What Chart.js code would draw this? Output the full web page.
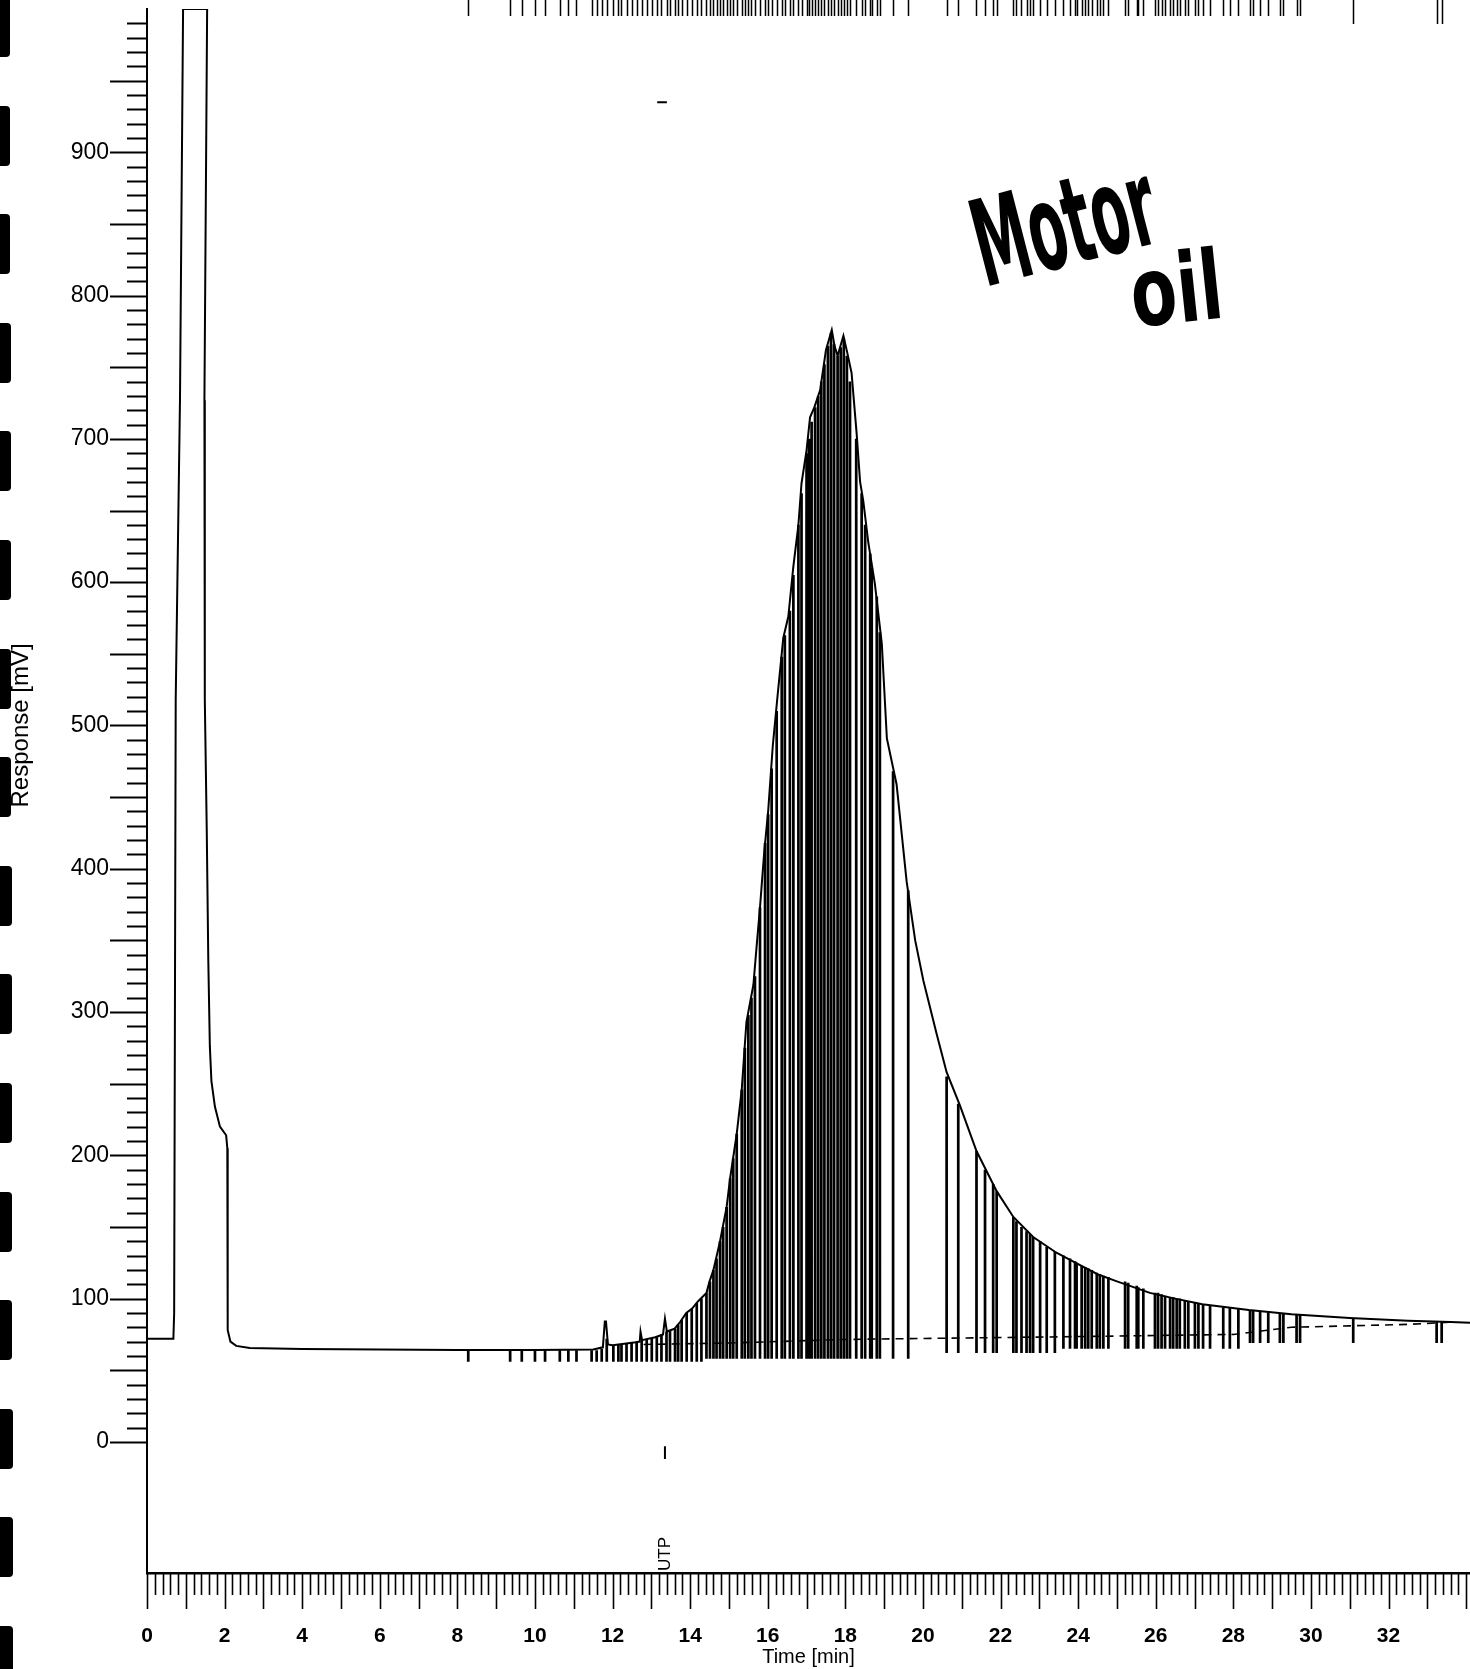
<!DOCTYPE html>
<html>
<head>
<meta charset="utf-8">
<title>Motor oil</title>
<script src="https://cdn.jsdelivr.net/npm/chart.js@4.4.1/dist/chart.umd.min.js"></script>
<style>
  html, body { margin: 0; padding: 0; background: #fff; }
  #wrap { position: relative; width: 1470px; height: 1669px; overflow: hidden; background: #fff; }
  #graph { position: absolute; left: 0; top: 0; }
  .hole { position: absolute; left: 0; background: #000; border-radius: 0 4px 4px 0; }
</style>
</head>
<body>
<div id="wrap">
  <canvas id="graph" width="1470" height="1669"></canvas>
</div>
<script>
// detector trace, time [min] / response [mV]
const signalTime = [0, 0.68, 0.70, 0.74, 0.85, 0.93, 1.55, 1.48, 1.49, 1.54, 1.58, 1.62, 1.66, 1.75, 1.88, 2.04, 2.07, 2.08, 2.15, 2.3, 2.65,
    4.0, 6.0, 8.0, 10.0, 11.5, 11.75, 11.8, 11.83, 11.88, 12.0, 12.3, 12.6, 12.7, 12.72, 12.76, 13.1, 13.3, 13.35, 13.4, 13.6,
    13.75, 13.9, 14.05, 14.2, 14.42, 14.5, 14.6, 14.77, 14.94, 15.03, 15.2, 15.33, 15.45, 15.63, 15.71, 15.8, 15.91, 16.01,
    16.13, 16.25, 16.4, 16.53, 16.66, 16.79, 16.87, 17.0, 17.09, 17.2, 17.35, 17.5, 17.65, 17.72, 17.8, 17.95, 18.05, 18.16,
    18.29, 18.38, 18.46, 18.59, 18.76, 18.94, 19.07, 19.32, 19.58, 19.8, 20.01, 20.35, 20.61, 20.95, 21.38, 21.9, 22.33,
    22.84, 23.44, 24.0, 24.5, 25.0, 25.85, 26.5, 27.2, 28.4, 29.5, 31.0, 32.5, 33.6, 34.2];
const signalValue = [72, 72, 90, 518, 727, 1000, 1000, 727, 518, 427, 336, 276, 252, 234, 220, 214, 205, 78, 70, 67, 65.6,
    64.8, 64.4, 64.2, 64.2, 64.5, 66, 84, 84, 68, 67.5, 68.5, 69.5, 70, 77, 71, 73, 75, 86, 77, 79,
    84, 90, 93, 98, 104, 112, 120, 140, 164, 184, 215, 246, 293, 319, 345, 373, 412, 440,
    486, 520, 561, 576, 611, 640, 669, 692, 715, 722, 734, 762, 776, 765, 758, 772, 760, 746,
    704, 670, 657, 628, 599, 557, 491, 459, 391, 350, 322, 285, 258, 235, 203, 175, 157,
    143, 132, 124, 117, 112, 104, 100, 96, 92, 89, 86.5, 84.5, 83.6, 83];

// dashed integration baseline
const baseTime = [12.8, 15.0, 18.0, 21.0, 24.0, 28.0, 29.5, 31.0, 32.5, 33.6];
const baseValue = [68, 69, 71.5, 72.5, 73.5, 75, 80, 81, 82, 83.5];

// peak drop lines (time, top, bottom)
const dropTimes = [8.28, 9.36, 9.66, 10.0, 10.26, 10.64, 10.86, 11.07, 11.46, 11.59,
    11.72, 11.85, 12.02, 12.15, 12.23, 12.36, 12.49, 12.62, 12.75, 12.88, 13.01, 13.14, 13.26, 13.39, 13.48, 13.61,
    13.69, 13.78, 13.91, 14.04, 14.17, 14.29,
    14.42, 14.51, 14.6, 14.68, 14.77, 14.85, 14.94, 15.03, 15.11, 15.2, 15.33, 15.41, 15.5, 15.58, 15.67, 15.8, 15.93,
    16.01, 16.1, 16.23, 16.36, 16.44, 16.57, 16.66, 16.79, 16.87, 17.0, 17.06, 17.13, 17.22, 17.3, 17.38, 17.46, 17.55,
    17.63, 17.71, 17.8, 17.88, 17.96, 18.04, 18.12, 18.28, 18.42, 18.51, 18.64, 18.68, 18.81, 18.89, 19.23, 19.62,
    20.61, 20.91, 21.38, 21.6, 21.81, 21.9, 22.33, 22.41, 22.54, 22.67, 22.76, 22.84, 23.02, 23.19, 23.4, 23.62, 23.79,
    23.92, 23.96, 24.09, 24.18, 24.26, 24.35, 24.48, 24.56, 24.65, 24.78, 25.21, 25.29, 25.51, 25.55, 25.68, 25.98,
    26.06, 26.15, 26.24, 26.37, 26.45, 26.54, 26.62, 26.75, 26.84, 27.01, 27.1, 27.22, 27.4, 27.74, 27.91, 28.13,
    28.43, 28.51, 28.69, 28.9, 29.2, 29.29, 29.63, 29.72, 31.09, 33.24, 33.37];
const dropTops = [64, 64, 64, 64, 64, 64, 64, 64, 64, 64,
    65, 72, 67.5, 68, 68, 68.5, 69, 70, 71, 72, 72.5, 73.5, 75, 77, 78, 79, 82, 85, 90, 93, 97, 100,
    104, 112, 120, 128, 140, 150, 164, 184, 198, 215, 246, 275, 298, 310, 325, 373, 418, 438, 470, 510,
    548, 563, 580, 605, 640, 662, 690, 700, 712, 722, 730, 740, 752, 765, 774, 766, 758, 764, 770, 758,
    740, 700, 662, 640, 620, 610, 590, 565, 468, 385,
    255, 236, 203, 190, 180, 175, 157, 154, 150, 147, 145, 143, 140, 136, 133, 130, 128, 126, 125, 123,
    122, 121, 120, 118, 117, 116, 115, 112, 111, 109, 108, 107, 104, 104, 103, 102, 101, 101, 100, 100,
    99, 98, 97, 97, 96, 95.5, 94, 93.5, 93, 92, 91.5, 91, 90.5, 90, 89.5, 89, 88.5, 86, 84, 84];
const dropBottoms = [56, 56, 56, 56, 56, 56, 56, 56, 56, 56,
    56, 56, 56, 56, 56, 56, 56, 56, 56, 56, 56, 56, 56, 56, 56, 56, 56, 56, 56, 56, 56, 56,
    58, 58, 58, 58, 58, 58, 58, 58, 58, 58, 58, 58, 58, 58, 58, 58, 58, 58, 58, 58,
    58, 58, 58, 58, 58, 58, 58, 58, 58, 58, 58, 58, 58, 58, 58, 58, 58, 58, 58, 58,
    58, 58, 58, 58, 58, 58, 58, 58, 58, 58,
    62, 62, 62, 62, 62, 62, 62, 62, 62, 62, 62, 62, 62, 62, 62, 65, 65, 65, 65, 65,
    65, 65, 65, 65, 65, 65, 65, 65, 65, 65, 65, 65, 65, 65, 65, 65, 65, 65, 65, 65,
    65, 65, 65, 65, 65, 65, 65, 65, 65, 69, 69, 69, 69, 69, 69, 69, 69, 69, 69, 69];

const xTickLabels = [0, 2, 4, 6, 8, 10, 12, 14, 16, 18, 20, 22, 24, 26, 28, 30, 32];
const yTickLabels = [0, 100, 200, 300, 400, 500, 600, 700, 800, 900];

const injectTime = 13.35; // UTP event

Chart.defaults.font.family = "'Liberation Sans', Arial, sans-serif";
Chart.defaults.color = '#000';

// punch holes down the left edge of the scan
const wrap = document.getElementById('wrap');
for (let n = 0; n < 16; n++) {
    let hole = document.createElement('div');
    hole.setAttribute('class', 'hole');
    hole.style.top = (-3 + n * 108.6) + 'px';
    hole.style.height = '60px';
    hole.style.width = (10 + n * 0.2) + 'px';
    wrap.appendChild(hole);
}

let signalPoints = signalTime.map((t, i) => ({ x: t, y: signalValue[i] }));
let basePoints = baseTime.map((t, i) => ({ x: t, y: baseValue[i] }));
let dropPoints = [];
dropTimes.forEach((t, i) => {
    dropPoints.push({ x: t, y: dropBottoms[i] }, { x: t, y: dropTops[i] }, { x: t, y: null });
});

const decor = {
    id: 'decor',
    afterDraw(chart) {
        const { ctx, chartArea, scales: { x, y } } = chart;
        ctx.save();
        ctx.strokeStyle = '#000';
        ctx.fillStyle = '#000';
        // y ticks every 10 mV
        ctx.lineWidth = 2;
        ctx.beginPath();
        for (let i = 0; i <= 99; i++) {
            let py = Math.round(y.getPixelForValue(i * 10)) + 0.5;
            let len = i % 5 === 0 ? 37 : 20;
            ctx.moveTo(chartArea.left - len, py);
            ctx.lineTo(chartArea.left, py);
        }
        ctx.stroke();
        // x ticks every 0.2 min
        ctx.lineWidth = 1.6;
        ctx.beginPath();
        for (let i = 0; i <= 170; i++) {
            let px = Math.round(x.getPixelForValue(i / 5)) + 0.5;
            let len = i % 5 === 0 ? 36 : 22;
            ctx.moveTo(px, chartArea.bottom);
            ctx.lineTo(px, chartArea.bottom + len);
        }
        ctx.stroke();
        // peak label marks along the top
        ctx.lineWidth = 1.5;
        ctx.beginPath();
        dropTimes.forEach(t => {
            let px = Math.round(x.getPixelForValue(t)) + 0.5;
            ctx.moveTo(px, 0);
            ctx.lineTo(px, t > 31 ? 24 : 16);
        });
        ctx.stroke();
        // UTP event marks
        let ux = x.getPixelForValue(injectTime);
        ctx.lineWidth = 2;
        ctx.beginPath();
        ctx.moveTo(ux, y.getPixelForValue(-3));
        ctx.lineTo(ux, y.getPixelForValue(-12));
        ctx.moveTo(x.getPixelForValue(injectTime - 0.2), y.getPixelForValue(935));
        ctx.lineTo(x.getPixelForValue(injectTime + 0.05), y.getPixelForValue(935));
        ctx.stroke();
        ctx.save();
        ctx.translate(ux, chartArea.bottom - 2);
        ctx.rotate(-Math.PI / 2);
        ctx.font = "17px 'Liberation Sans', Arial, sans-serif";
        ctx.textBaseline = 'middle';
        ctx.fillText('UTP', 0, 0);
        ctx.restore();
        // y axis title, centred on 500 mV as in the print-out
        ctx.save();
        ctx.translate(21, y.getPixelForValue(500));
        ctx.rotate(-Math.PI / 2);
        ctx.font = "24px 'Liberation Sans', Arial, sans-serif";
        ctx.textAlign = 'center';
        ctx.textBaseline = 'middle';
        ctx.fillText('Response [mV]', 0, 0);
        ctx.restore();
        // handwritten note
        ctx.font = "bold 120px 'DejaVu Sans', sans-serif";
        ctx.textBaseline = 'alphabetic';
        ctx.save();
        ctx.translate(985, 287);
        ctx.rotate(-14.5 * Math.PI / 180);
        ctx.scale(0.46, 1);
        ctx.fillText('Motor', 0, 0);
        ctx.restore();
        ctx.font = "bold 96px 'DejaVu Sans', sans-serif";
        ctx.save();
        ctx.translate(1134, 327);
        ctx.rotate(-6 * Math.PI / 180);
        ctx.scale(0.7, 1);
        ctx.fillText('oil', 0, 0);
        ctx.restore();
        ctx.restore();
    }
};

const ctx = document.getElementById('graph').getContext('2d');
const chart = new Chart(ctx, {
    type: 'line',
    data: {
        datasets: [
            {
                data: signalPoints,
                borderColor: '#000',
                borderWidth: 2,
                pointRadius: 0,
                tension: 0,
            },
            {
                data: basePoints,
                borderColor: '#000',
                borderWidth: 1.6,
                borderDash: [8, 6],
                pointRadius: 0,
                tension: 0,
            },
            {
                data: dropPoints,
                borderColor: '#000',
                borderWidth: 2.7,
                pointRadius: 0,
                tension: 0,
                spanGaps: false,
            }
        ]
    },
    options: {
        responsive: false,
        animation: false,
        events: [],
        layout: { padding: { top: 9, right: 0, bottom: 0, left: 0 } },
        plugins: { legend: { display: false }, tooltip: { enabled: false } },
        scales: {
            x: {
                type: 'linear',
                min: 0,
                max: 34.1,
                grid: { display: false },
                border: { display: true, color: '#000', width: 2.5 },
                afterBuildTicks: (scale) => { scale.ticks = xTickLabels.map(v => ({ value: v })); },
                afterFit: (scale) => {
                    scale.height = 96;
                    scale.paddingLeft = 0;
                    scale.paddingRight = 0;
                },
                ticks: {
                    autoSkip: false,
                    maxRotation: 0,
                    padding: 43,
                    color: '#000',
                    font: { size: 21, weight: 'bold' },
                    callback: (v) => String(v),
                },
                title: {
                    display: true,
                    text: 'Time [min]',
                    color: '#000',
                    font: { size: 20 },
                    padding: { top: 0, bottom: 0 },
                }
            },
            y: {
                type: 'linear',
                min: -91.5,
                max: 1000,
                grid: { display: false },
                border: { display: true, color: '#000', width: 2 },
                afterBuildTicks: (scale) => { scale.ticks = yTickLabels.map(v => ({ value: v })); },
                afterFit: (scale) => {
                    scale.width = 147;
                    scale.paddingTop = 0;
                    scale.paddingBottom = 0;
                },
                ticks: {
                    autoSkip: false,
                    padding: 30,
                    color: '#000',
                    font: { size: 23 },
                    callback: (v) => String(v),
                },
                title: { display: false }
            }
        }
    },
    plugins: [decor]
});
</script>
</body>
</html>
